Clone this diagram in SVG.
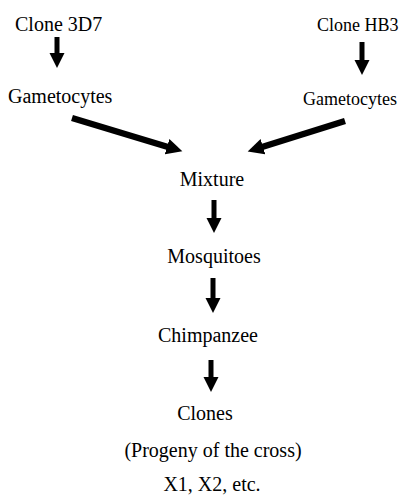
<svg xmlns="http://www.w3.org/2000/svg" width="411" height="497" viewBox="0 0 411 497">
<style>
text{font-family:"Liberation Serif","Times New Roman",serif;font-size:20px;fill:#000}
.r{font-size:18px}
.c{text-anchor:middle}
.a{stroke:#000;stroke-width:5;fill:none;marker-end:url(#ah)}
.d{stroke:#000;stroke-width:6.5;fill:none;marker-end:url(#ah2)}
</style>
<defs>
<marker id="ah" markerUnits="userSpaceOnUse" markerWidth="16" markerHeight="16" refX="1" refY="8" orient="auto" viewBox="0 0 16 16">
<path d="M0,0.5 L15,8 L0,15.5 z" fill="#000"/>
</marker>
<marker id="ah2" markerUnits="userSpaceOnUse" markerWidth="18" markerHeight="18" refX="1" refY="9" orient="auto" viewBox="0 0 18 18">
<path d="M0,1 L16,9 L0,17 z" fill="#000"/>
</marker>
</defs>
<g id="n-clone3d7"><text x="15" y="31">Clone 3D7</text></g>
<g id="n-clonehb3"><text class="r" x="317" y="31">Clone HB3</text></g>
<g id="n-gam1"><text x="8" y="103">Gametocytes</text></g>
<g id="n-gam2"><text class="r" x="303" y="105">Gametocytes</text></g>
<g id="n-mixture"><text class="c" x="212" y="186">Mixture</text></g>
<g id="n-mosq"><text class="c" x="214" y="263">Mosquitoes</text></g>
<g id="n-chimp"><text class="c" x="208" y="342">Chimpanzee</text></g>
<g id="n-clones"><text class="c" x="205" y="420">Clones</text></g>
<g id="n-progeny"><text class="c" x="213" y="457">(Progeny of the cross)</text><text class="c" x="212" y="491">X1, X2, etc.</text></g>
<g id="connectors">
<path class="a" d="M57,37 V54"/>
<path class="a" d="M362,42 V61"/>
<path class="a" d="M214,200 V219"/>
<path class="a" d="M213,278 V299"/>
<path class="a" d="M211,360 V378"/>
<path class="d" d="M72,118 L168,147"/>
<path class="d" d="M345,121 L262,147"/>
</g>
</svg>
